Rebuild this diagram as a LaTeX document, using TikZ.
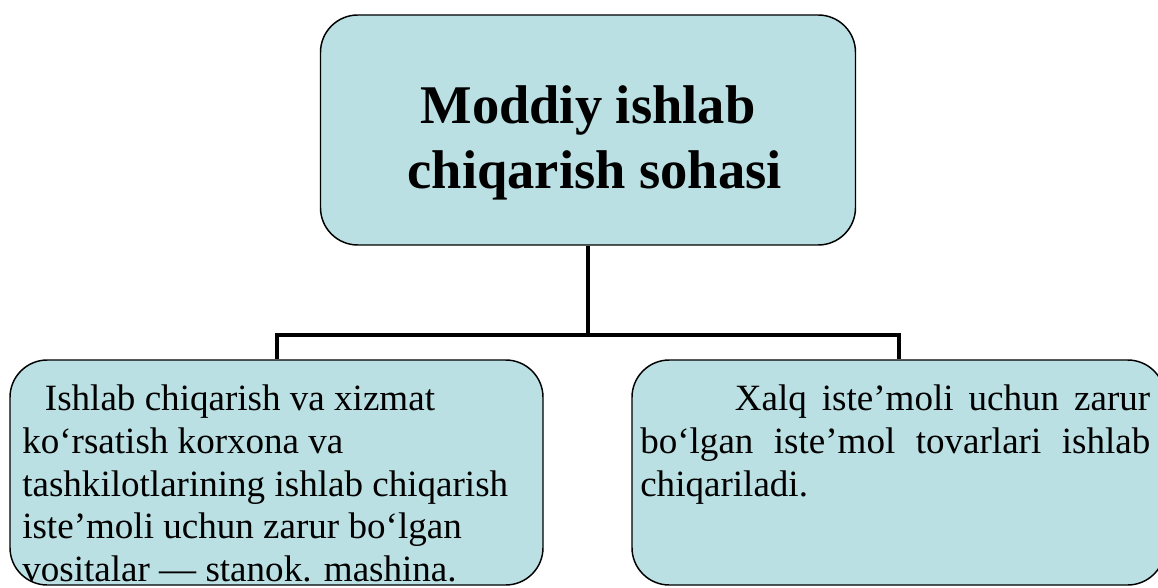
\documentclass[tikz,border=0pt]{standalone}
\usepackage{fontspec}
\setmainfont{Liberation Serif}
\definecolor{boxblue}{RGB}{187,224,227}

\begin{document}
\begin{tikzpicture}[x=0.75pt,y=-0.75pt,
  box/.style={rectangle,rounded corners=28pt,draw,line width=1.1pt,fill=boxblue,
    minimum width=399.75pt,minimum height=168.75pt,inner sep=0pt},
  body/.style={inner sep=0pt,font=\fontsize{27.8}{31.9}\selectfont},
  conn/.style={line width=3pt}]
  \useasboundingbox (0,0) rectangle (1158,588);
  \clip (0,0) rectangle (1158,588);
			\node[box,minimum width=401.25pt,minimum height=172.5pt](n1) at (588,130) {};
			\node[align=center,inner sep=0pt,font=\fontsize{40.9}{48.75}\selectfont\bfseries](t1) at (588,143)
			{Moddiy ishlab\\\hspace*{0.25em}chiqarish sohasi};
			\node[box](n2) at (276.5,472.5) {};
			\node[box](n3) at (898.5,472.5) {};
			\node[body,anchor=north west,align=left](t2) at (22,385)
			{\hspace*{17pt}Ishlab chiqarish va xizmat\\ko‘rsatish korxona va\\tashkilotlarining ishlab chiqarish\\iste’moli uchun zarur bo‘lgan\\vositalar — stanok. mashina.};
			\node[body,anchor=north west,text width=382.5pt,align=justify](t3) at (640,385)
			{\hspace*{71pt}Xalq iste’moli uchun zarur\linebreak bo‘lgan iste’mol tovarlari ishlab\linebreak chiqariladi.};
			\coordinate (j) at (588,335);
			\draw[conn] (n1)--(j);
			\draw[conn] (j)-|(n2);
			\draw[conn] (j)-|(n3);
		\end{tikzpicture}
\end{document}
